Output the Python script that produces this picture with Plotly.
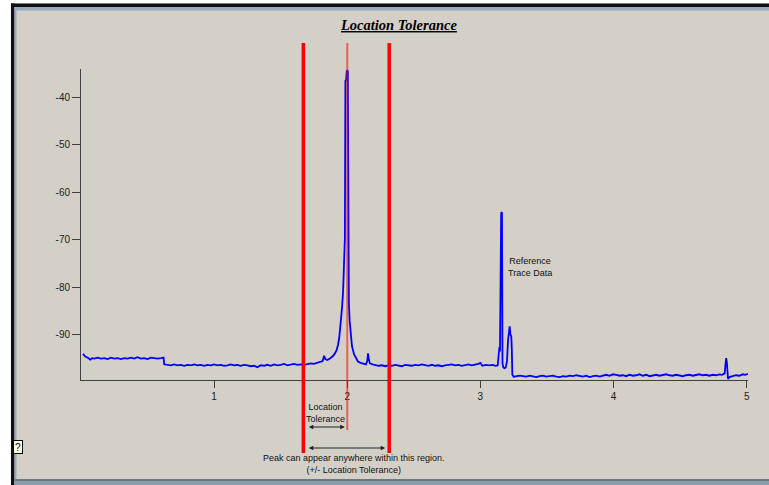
import plotly.graph_objects as go

# ---------------- data ----------------
trace_x = [0.015, 0.03, 0.05, 0.07, 0.085, 0.10, 0.125, 0.15, 0.175, 0.20, 0.225, 0.25, 0.275, 0.30,
           0.325, 0.35, 0.375, 0.40, 0.425, 0.45, 0.475, 0.50, 0.525, 0.55, 0.575, 0.60, 0.62, 0.625,
           0.65, 0.675, 0.70, 0.725, 0.75, 0.775, 0.80, 0.825, 0.85, 0.875, 0.90, 0.925, 0.95, 0.975,
           1.00, 1.025, 1.05, 1.075, 1.10, 1.125, 1.15, 1.175, 1.20, 1.225, 1.25, 1.275, 1.30, 1.325,
           1.35, 1.375, 1.40, 1.425, 1.45, 1.475, 1.50, 1.525, 1.55, 1.575, 1.60, 1.625, 1.65, 1.675,
           1.70, 1.725, 1.75, 1.775, 1.80, 1.815, 1.826, 1.835, 1.85, 1.87, 1.89, 1.905, 1.92, 1.93,
           1.94, 1.95, 1.96, 1.968, 1.974, 1.978, 1.982, 1.986, 1.992, 1.996, 2.0, 2.004, 2.006, 2.008,
           2.012, 2.018, 2.024, 2.035, 2.05, 2.065, 2.08, 2.10, 2.12, 2.14, 2.15, 2.156, 2.162, 2.17,
           2.19, 2.21, 2.235, 2.26, 2.285, 2.31, 2.335, 2.36, 2.385, 2.41, 2.435, 2.46, 2.485, 2.51,
           2.535, 2.56, 2.585, 2.61, 2.635, 2.66, 2.685, 2.71, 2.735, 2.76, 2.785, 2.81, 2.835, 2.86,
           2.885, 2.91, 2.935, 2.96, 2.985, 3.00, 3.015, 3.04, 3.065, 3.09, 3.115, 3.13, 3.138, 3.143,
           3.147, 3.151, 3.156, 3.162, 3.166, 3.172, 3.18, 3.19, 3.20, 3.208, 3.214, 3.22, 3.226, 3.232,
           3.236, 3.24, 3.25, 3.27, 3.295, 3.32, 3.345, 3.37, 3.395, 3.42, 3.445, 3.47, 3.495, 3.52,
           3.545, 3.57, 3.595, 3.62, 3.645, 3.67, 3.695, 3.72, 3.745, 3.77, 3.795, 3.82, 3.845, 3.87,
           3.895, 3.92, 3.945, 3.97, 3.995, 4.02, 4.045, 4.07, 4.095, 4.12, 4.145, 4.17, 4.195, 4.22,
           4.245, 4.27, 4.295, 4.32, 4.345, 4.37, 4.395, 4.42, 4.445, 4.47, 4.495, 4.52, 4.545, 4.57,
           4.595, 4.62, 4.645, 4.67, 4.695, 4.72, 4.745, 4.77, 4.795, 4.815, 4.835, 4.84, 4.846, 4.851,
           4.855, 4.86, 4.87, 4.895, 4.92, 4.945, 4.97, 4.99, 5.01]
trace_y = [-94.0, -94.5, -94.8, -95.2, -94.9, -95.0, -94.8, -95.0, -94.9, -95.1, -94.8, -95.0, -94.9, -95.1,
           -94.9, -95.0, -94.8, -95.0, -94.7, -95.0, -94.9, -95.1, -94.8, -94.9, -95.0, -94.9, -94.8, -96.2,
           -96.3, -96.4, -96.2, -96.4, -96.3, -96.5, -96.3, -96.4, -96.2, -96.4, -96.3, -96.5, -96.3, -96.4,
           -96.2, -96.4, -96.3, -96.5, -96.4, -96.2, -96.4, -96.3, -96.5, -96.3, -96.4, -96.6, -96.5, -96.8,
           -96.4, -96.5, -96.3, -96.5, -96.2, -96.4, -96.3, -96.1, -96.4, -96.2, -96.1, -96.3, -96.2, -96.3,
           -96.1, -96.0, -96.1, -95.9, -95.6, -95.5, -94.4, -95.1, -95.3, -95.0, -94.5, -94.0, -93.2, -92.2,
           -90.5, -88.0, -84.5, -81.2, -75.0, -70.0, -69.8, -36.5, -36.3, -34.5, -34.2, -34.5, -68.2, -68.4,
           -83.2, -87.0, -89.5, -92.3, -94.0, -95.0, -95.6, -95.9, -96.1, -96.2, -95.5, -93.9, -95.2, -96.0,
           -96.2, -96.3, -96.5, -96.4, -96.6, -96.4, -96.5, -96.3, -96.4, -96.6, -96.3, -96.4, -96.5, -96.3,
           -96.4, -96.2, -96.4, -96.5, -96.3, -96.5, -96.4, -96.6, -96.4, -96.3, -96.2, -96.4, -96.3, -96.5,
           -96.3, -96.2, -96.4, -96.3, -96.1, -95.9, -96.5, -96.3, -96.4, -96.3, -96.5, -96.4, -94.5, -92.5,
           -93.5, -64.5, -64.2, -64.3, -96.0, -96.8, -97.0, -96.9, -95.5, -91.0, -88.4, -88.2, -90.0, -90.3,
           -93.0, -98.4, -98.8, -98.7, -98.6, -98.7, -98.8, -98.6, -98.7, -98.9, -98.7, -98.6, -98.8, -98.7,
           -98.6, -98.8, -98.9, -98.7, -98.8, -98.6, -98.7, -98.5, -98.7, -98.8, -98.6, -98.9, -98.7, -98.6,
           -98.8, -98.6, -98.4, -98.6, -98.3, -98.4, -98.6, -98.5, -98.7, -98.4, -98.6, -98.5, -98.3, -98.6,
           -98.4, -98.7, -98.5, -98.4, -98.6, -98.5, -98.3, -98.5, -98.6, -98.4, -98.5, -98.7, -98.5, -98.4,
           -98.6, -98.5, -98.3, -98.5, -98.4, -98.6, -98.4, -98.5, -98.3, -98.4, -98.1, -96.5, -94.9, -95.8,
           -97.0, -99.3, -98.9, -98.7, -98.5, -98.6, -98.3, -98.4, -98.2]

tolerance_lines = [1.67, 2.315]      # +/- location tolerance bounds
center_line = 2.0                    # expected peak location
x_ticks = [1, 2, 3, 4, 5]
y_ticks = [-40, -50, -60, -70, -80, -90]

title_text = "Location Tolerance"
ref_label = "Reference<br>Trace Data"
ref_label_pos = (3.37, -75.7)
tol_label = "Location<br>Tolerance"
region_label = "Peak can appear anywhere within this region.<br>(+/- Location Tolerance)"

# ---------------- layout geometry (pixels) ----------------
W, H = 769, 485
L, R = 81, 747.8
T, B = 69, 380


def px(x):
    return (x - L) / (R - L)


def py(y):
    return (B - y) / (B - T)


BG = "#D4D0C8"
fig = go.Figure()
fig.add_trace(go.Scatter(x=trace_x, y=trace_y, mode="lines",
                         line=dict(color="#0000FF", width=1.8), hoverinfo="skip",
                         showlegend=False))

shapes = []
# frame
shapes.append(dict(type="rect", xref="paper", yref="paper", x0=px(-5), x1=px(11), y0=py(-5), y1=py(490),
                   fillcolor="white", line=dict(width=0), layer="below"))
shapes.append(dict(type="rect", xref="paper", yref="paper", x0=px(-5), x1=px(775), y0=py(-5), y1=py(3.5),
                   fillcolor="white", line=dict(width=0), layer="below"))
shapes.append(dict(type="rect", xref="paper", yref="paper", x0=px(11), x1=px(14.5), y0=py(3.5), y1=py(490),
                   fillcolor="#101010", line=dict(width=0), layer="below"))
shapes.append(dict(type="rect", xref="paper", yref="paper", x0=px(11), x1=px(775), y0=py(3.5), y1=py(7),
                   fillcolor="#101010", line=dict(width=0), layer="below"))
shapes.append(dict(type="rect", xref="paper", yref="paper", x0=px(14.5), x1=px(16.5), y0=py(7), y1=py(490),
                   fillcolor="#98A8B8", line=dict(width=0), layer="below"))
shapes.append(dict(type="rect", xref="paper", yref="paper", x0=px(14.5), x1=px(775), y0=py(7), y1=py(10.5),
                   fillcolor="#9AAABA", line=dict(width=0), layer="below"))
shapes.append(dict(type="rect", xref="paper", yref="paper", x0=px(14.5), x1=px(775), y0=py(479), y1=py(490),
                   fillcolor="#8C9CAC", line=dict(width=0), layer="below"))
shapes.append(dict(type="rect", xref="paper", yref="paper", x0=px(14.5), x1=px(775), y0=py(479), y1=py(481),
                   fillcolor="#6E7880", line=dict(width=0), layer="below"))

# tolerance lines
for xv in tolerance_lines:
    shapes.append(dict(type="line", xref="x", yref="paper", x0=xv, x1=xv, y0=py(453), y1=py(43),
                       line=dict(color="#FF0000", width=3.5), layer="above"))
shapes.append(dict(type="line", xref="x", yref="paper", x0=center_line, x1=center_line,
                   y0=py(430), y1=py(43), line=dict(color="rgba(255,0,0,0.55)", width=2), layer="above"))

annotations = []
annotations.append(dict(xref="paper", yref="paper", x=px(398), y=py(25),
                        text="<b><i><u>" + title_text + "</u></i></b>", showarrow=False,
                        font=dict(family="Liberation Serif", size=14.5, color="black"),
                        xanchor="center", yanchor="middle"))
annotations.append(dict(xref="x", yref="y", x=ref_label_pos[0], y=ref_label_pos[1], text=ref_label,
                        showarrow=False, font=dict(family="Liberation Sans", size=9, color="#101010"),
                        xanchor="center", yanchor="middle"))
annotations.append(dict(xref="x", yref="paper", x=(tolerance_lines[0] + center_line) / 2, y=py(413),
                        text=tol_label, showarrow=False,
                        font=dict(family="Liberation Sans", size=9, color="#101010"),
                        xanchor="center", yanchor="middle"))
annotations.append(dict(xref="paper", yref="paper", x=px(353.5), y=py(463.5),
                        text=region_label, showarrow=False,
                        font=dict(family="Liberation Sans", size=9, color="#101010"),
                        xanchor="center", yanchor="middle"))
# arrows
annotations.append(dict(xref="x", yref="paper", x=center_line, y=py(427), axref="x", ayref="pixel",
                        ax=tolerance_lines[0], ay=0, text="", showarrow=True, arrowside="end+start",
                        arrowhead=2, arrowsize=0.9, arrowwidth=1, arrowcolor="#202020",
                        standoff=2.5, startstandoff=4))
annotations.append(dict(xref="x", yref="paper", x=tolerance_lines[1], y=py(448), axref="x", ayref="pixel",
                        ax=tolerance_lines[0], ay=0, text="", showarrow=True, arrowside="end+start",
                        arrowhead=2, arrowsize=0.9, arrowwidth=1, arrowcolor="#202020",
                        standoff=4, startstandoff=4))
# help icon
annotations.append(dict(xref="paper", yref="paper", x=px(18), y=py(446.5), text="?", showarrow=False,
                        font=dict(family="Liberation Sans", size=10, color="black"),
                        bgcolor="#FFFFE1", bordercolor="black", borderwidth=1, borderpad=0,
                        xanchor="center", yanchor="middle", width=8, height=12))

fig.update_layout(
    width=W, height=H,
    margin=dict(l=L, r=W - R, t=T, b=H - B, pad=0),
    paper_bgcolor=BG, plot_bgcolor=BG,
    showlegend=False,
    shapes=shapes, annotations=annotations,
    xaxis=dict(range=[0, 5.01], tickvals=x_ticks, ticktext=[str(v) for v in x_ticks],
               showgrid=False, zeroline=False, showline=True, linecolor="#404040", linewidth=1,
               ticks="outside", ticklen=7, tickcolor="#404040", tickwidth=1,
               tickfont=dict(family="Liberation Sans", size=10, color="#202020")),
    yaxis=dict(range=[-99.5, -34], tickvals=y_ticks, ticktext=[str(v) for v in y_ticks],
               showgrid=False, zeroline=False, showline=True, linecolor="#404040", linewidth=1,
               ticks="outside", ticklen=8, tickcolor="#404040", tickwidth=1,
               tickfont=dict(family="Liberation Sans", size=10, color="#202020")),
)

fig.write_html("out.html", config={"displayModeBar": False},
               post_script="document.body.style.margin='0';document.body.style.overflow='hidden';")
